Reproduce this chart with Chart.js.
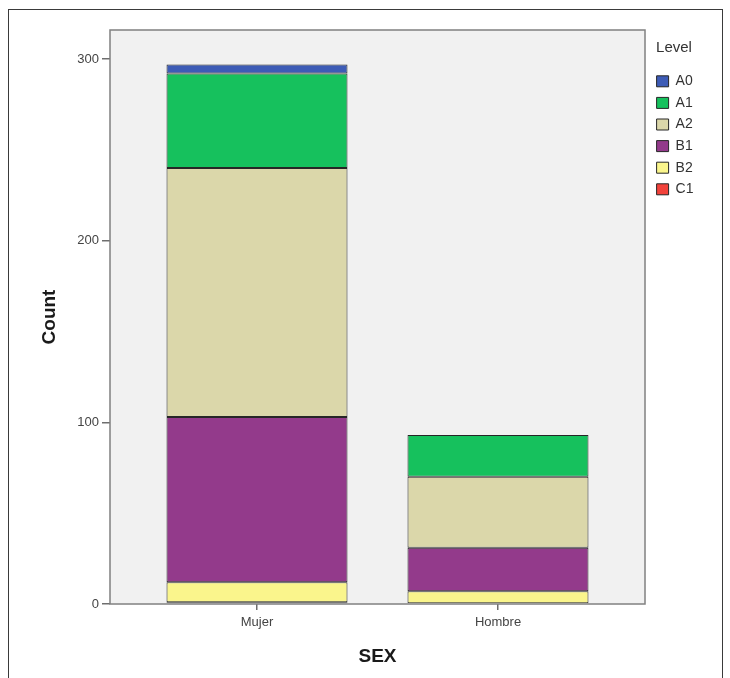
<!DOCTYPE html>
<html>
<head>
<meta charset="utf-8">
<script src="https://cdn.jsdelivr.net/npm/chart.js@4.4.1/dist/chart.umd.min.js"></script>
<style>
html,body{margin:0;padding:0;background:#fff;}
#wrap{position:relative;width:730px;height:678px;}
</style>
</head>
<body>
<div id="wrap"><canvas id="c" width="730" height="678"></canvas></div>
<script>
// ---- data ----
const categories = ['Mujer', 'Hombre'];
const levels = ['A0', 'A1', 'A2', 'B1', 'B2', 'C1'];
const A0 = [5, 0];
const A1 = [52, 23];
const A2 = [137, 39];
const B1 = [91, 24];
const B2 = [11, 7];
const C1 = [1, 0];
const yTicks = [0, 100, 200, 300];

const seriesByLevel = {A0, A1, A2, B1, B2, C1};
const colors = {A0:'#3d5cb6', A1:'#16c15d', A2:'#dbd7aa', B1:'#933a8b', B2:'#faf58c', C1:'#f2423b'};
const FONT = "'Liberation Sans', Arial, sans-serif";

const frame = {
  id: 'frame',
  beforeDraw(chart) {
    const {ctx, chartArea: a} = chart;
    ctx.save();
    ctx.fillStyle = '#ffffff';
    ctx.fillRect(0, 0, chart.width, chart.height);
    ctx.strokeStyle = '#3a3a3a';
    ctx.lineWidth = 1;
    ctx.strokeRect(8.5, 9.5, 714, 700);
    ctx.fillStyle = '#f1f1f1';
    ctx.fillRect(a.left, a.top, a.right - a.left, a.bottom - a.top);
    ctx.restore();
  },
  afterDatasetsDraw(chart) {
    const {ctx, chartArea: a} = chart;
    ctx.save();
    ctx.strokeStyle = '#808080';
    ctx.lineWidth = 1.5;
    ctx.strokeRect(a.left, a.top, a.right - a.left, a.bottom - a.top);
    ctx.restore();
  }
};

const datasets = levels.slice().reverse().map(l => ({
  label: l,
  data: categories.map((c, i) => ({x: i + 1, y: seriesByLevel[l][i]})),
  backgroundColor: colors[l],
  borderColor: '#262626',
  borderWidth: 1,
  borderSkipped: false,
  categoryPercentage: 1,
  barPercentage: 0.751
}));

new Chart(document.getElementById('c'), {
  type: 'bar',
  data: {datasets},
  options: {
    responsive: false,
    animation: false,
    devicePixelRatio: 1,
    layout: {padding: {left: 0, top: 30, right: 31, bottom: 0}},
    plugins: {
      legend: {
        position: 'right',
        align: 'start',
        reverse: true,
        maxWidth: 50,
        title: {display: true, text: 'Level', color: '#333', position: 'center',
                font: {family: FONT, size: 15}, padding: {top: 10.5, bottom: 8.2}},
        labels: {boxWidth: 12, boxHeight: 11, padding: 7.6, color: '#333',
                 font: {family: FONT, size: 14}}
      },
      tooltip: {enabled: false}
    },
    scales: {
      x: {
        type: 'linear',
        stacked: true,
        offset: false,
        min: 0.39,
        max: 2.61,
        afterBuildTicks: s => { s.ticks = categories.map((c, i) => ({value: i + 1})); },
        ticks: {
          callback: v => categories[v - 1],
          autoSkip: false, maxRotation: 0, padding: 5,
          color: '#444', font: {family: FONT, size: 13}
        },
        grid: {display: true, offset: false, drawOnChartArea: false, drawTicks: true, tickLength: 6,
               color: '#6e6e6e', lineWidth: 1.5},
        border: {display: false},
        title: {display: true, text: 'SEX', color: '#1a1a1a',
                font: {family: FONT, size: 19, weight: 'bold'}, padding: {top: 0, bottom: 10}},
        afterFit: s => { s.height = 74; }
      },
      y: {
        type: 'linear',
        stacked: true,
        min: 0,
        max: 316,
        afterBuildTicks: s => { s.ticks = yTicks.map(v => ({value: v})); },
        ticks: {padding: 3, color: '#444', font: {family: FONT, size: 13}},
        grid: {display: true, drawOnChartArea: false, drawTicks: true, tickLength: 8,
               color: '#6e6e6e', lineWidth: 1.5},
        border: {display: false},
        title: {display: true, text: 'Count', color: '#1a1a1a',
                font: {family: FONT, size: 19, weight: 'bold'}, padding: {top: 38, bottom: 0}},
        afterFit: s => { s.width = 110; }
      },
      gap: {
        type: 'linear',
        position: 'right',
        display: true,
        grid: {display: false},
        ticks: {display: false},
        border: {display: false},
        afterFit: s => { s.width = 4; }
      }
    }
  },
  plugins: [frame]
});
</script>
</body>
</html>
